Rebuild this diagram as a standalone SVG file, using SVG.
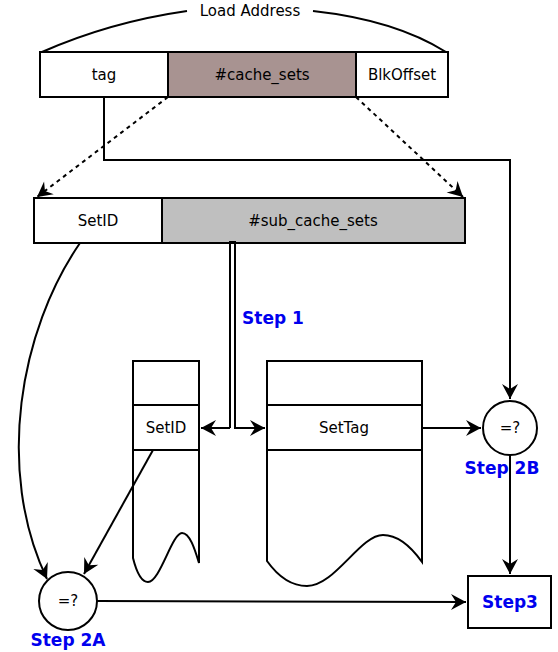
<svg xmlns="http://www.w3.org/2000/svg" width="558" height="652" viewBox="0 0 558 652">
<defs>
<marker id="ah" viewBox="-16 -9 18 18" refX="0" refY="0" markerWidth="18" markerHeight="18" markerUnits="userSpaceOnUse" orient="auto">
<path d="M0,0 L-15,-8 L-10,0 L-15,8 Z" fill="#000"/>
</marker>
</defs>
<style>
.box{stroke:#000;stroke-width:2}
.t{font-family:"DejaVu Sans",sans-serif;font-size:15px;fill:#000;text-anchor:middle}
.s{font-family:"DejaVu Sans",sans-serif;font-size:17px;font-weight:bold;fill:#0000ee;text-anchor:middle}
.c{fill:none;stroke:#000;stroke-width:2}
</style>
<rect width="558" height="652" fill="#fff"/>
<g id="load-address">
<path class="c" d="M42,52 Q110,22 187,11" stroke-width="1"/>
<path class="c" d="M313,11 Q395,20 446,52" stroke-width="1"/>
<text class="t" x="250" y="16">Load Address</text>
</g>
<g id="tag"><rect class="box" x="40" y="52" width="128" height="45" fill="#fff"/><text class="t" x="104" y="80">tag</text></g>
<g id="cache_sets"><rect class="box" x="168" y="52" width="188" height="45" fill="#a89391"/><text class="t" x="262" y="80">#cache_sets</text></g>
<g id="blkoffset"><rect class="box" x="356" y="52" width="92" height="45" fill="#fff"/><text class="t" x="402" y="80">BlkOffset</text></g>
<g id="setid"><rect class="box" x="34" y="198" width="128" height="45" fill="#fff"/><text class="t" x="98" y="226">SetID</text></g>
<g id="sub_cache_sets"><rect class="box" x="162" y="198" width="303" height="45" fill="#bfbfbf"/><text class="t" x="313" y="226">#sub_cache_sets</text></g>
<g id="setid-table">
<path class="c" d="M133,361 L199,361 L199,563 C195,550 190,533 182,533 C172,533 160,582 148,582 C141,582 136,570 133,558 Z" fill="#fff"/>
<line class="c" x1="133" y1="405" x2="199" y2="405"/>
<line class="c" x1="133" y1="450" x2="199" y2="450"/>
<text class="t" x="166" y="433">SetID</text>
</g>
<g id="settag-table">
<path class="c" d="M267,361 L422,361 L422,562 C412,548 398,535 383,535 C360,535 335,586 307,586 C290,586 277,575 267,561 Z" fill="#fff"/>
<line class="c" x1="267" y1="405" x2="422" y2="405"/>
<line class="c" x1="267" y1="450" x2="422" y2="450"/>
<text class="t" x="344" y="433">SetTag</text>
</g>
<g id="cmp2b"><circle class="box" cx="510" cy="428" r="27" fill="#fff"/><text class="t" x="510" y="433">=?</text></g>
<g id="cmp2a"><circle class="box" cx="68" cy="601" r="29" fill="#fff"/><text class="t" x="68" y="606">=?</text></g>
<g id="step3"><rect class="box" x="468" y="576" width="83" height="52" fill="#fff"/><text class="s" x="510" y="608">Step3</text></g>
<g id="labels">
<text class="s" x="273" y="324">Step 1</text>
<text class="s" x="502" y="474">Step 2B</text>
<text class="s" x="68" y="646">Step 2A</text>
</g>
<g id="connectors">
<line class="c" x1="168" y1="97" x2="37" y2="197" stroke-dasharray="4,4" marker-end="url(#ah)"/>
<line class="c" x1="356" y1="97" x2="463" y2="197" stroke-dasharray="4,4" marker-end="url(#ah)"/>
<path class="c" d="M104,97 L104,160 L510,160 L510,399" marker-end="url(#ah)"/>
<path class="c" d="M230,428 L230,242 L235,242 L235,428 L265,428" marker-end="url(#ah)"/>
<path class="c" d="M230,428 L201,428" marker-end="url(#ah)"/>
<line class="c" x1="422" y1="428" x2="481" y2="428" marker-end="url(#ah)"/>
<line class="c" x1="510" y1="455" x2="510" y2="574" marker-end="url(#ah)"/>
<line class="c" x1="97" y1="601" x2="466" y2="602" marker-end="url(#ah)"/>
<path class="c" d="M80,243 C20,330 -5,470 47,579" marker-end="url(#ah)"/>
<line class="c" x1="153" y1="450" x2="84" y2="574" marker-end="url(#ah)"/>
</g>
</svg>
